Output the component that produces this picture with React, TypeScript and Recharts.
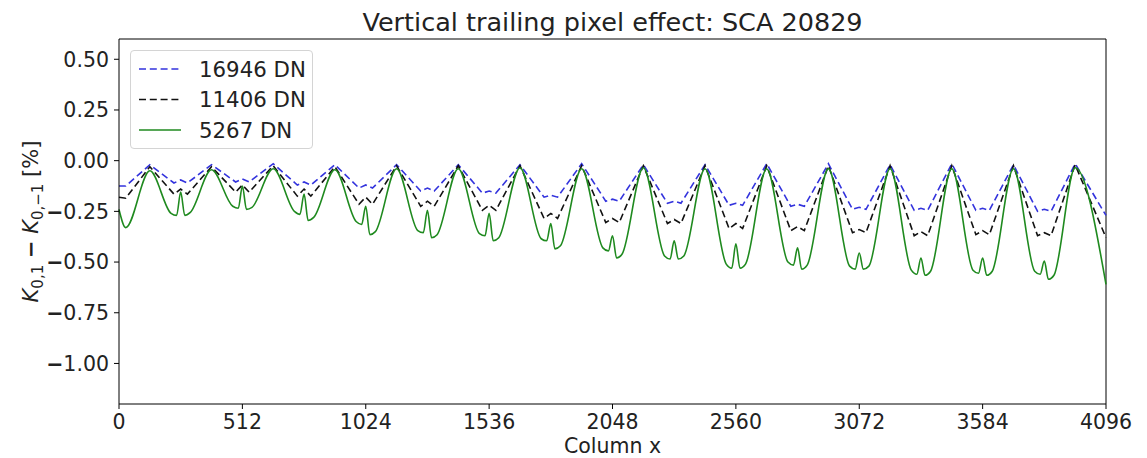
import React from 'react'
import { LineChart, Line, XAxis, YAxis, Legend, Label, ReferenceLine } from 'recharts'

// column positions of the periodic features (peaks between the 256-column blocks)
const PEAK_COLS = [128, 384, 640, 896, 1152, 1408, 1664, 1920, 2176, 2432, 2688, 2944, 3200, 3456, 3712, 3968]
const VALLEY_COLS = [256, 512, 768, 1024, 1280, 1536, 1792, 2048, 2304, 2560, 2816, 3072, 3328, 3584, 3840]
const X_TICKS = [0, 512, 1024, 1536, 2048, 2560, 3072, 3584, 4096]
const Y_TICKS = [0.5, 0.25, 0, -0.25, -0.5, -0.75, -1]

// 16946 DN
const BLUE_PEAK = [-0.02, -0.02, -0.015, -0.02, -0.02, -0.02, -0.02, -0.015, -0.02, -0.02, -0.015, -0.015, -0.02, -0.015, -0.02, -0.015]
const BLUE_TROUGH = [-0.11, -0.105, -0.12, -0.135, -0.15, -0.16, -0.18, -0.2, -0.21, -0.22, -0.225, -0.24, -0.245, -0.245, -0.25]
const BLUE_MID = [-0.095, -0.09, -0.105, -0.12, -0.135, -0.15, -0.17, -0.19, -0.2, -0.21, -0.215, -0.23, -0.235, -0.235, -0.24]
const BLUE_EDGE = [-0.125, -0.125, -0.27] // col 0, first trough, col 4096

// 11406 DN
const BLACK_PEAK = [-0.03, -0.03, -0.025, -0.03, -0.025, -0.025, -0.025, -0.025, -0.025, -0.025, -0.025, -0.025, -0.025, -0.025, -0.025, -0.02]
const BLACK_TROUGH = [-0.165, -0.155, -0.175, -0.215, -0.225, -0.245, -0.285, -0.305, -0.31, -0.335, -0.345, -0.355, -0.37, -0.365, -0.37]
const BLACK_MID = [-0.14, -0.12, -0.14, -0.18, -0.2, -0.22, -0.26, -0.285, -0.29, -0.31, -0.325, -0.34, -0.35, -0.345, -0.355]
const BLACK_EDGE = [-0.18, -0.185, -0.38]

// 5267 DN
const GREEN_PEAK = [-0.05, -0.045, -0.04, -0.045, -0.04, -0.04, -0.035, -0.04, -0.035, -0.04, -0.04, -0.04, -0.04, -0.04, -0.04, -0.035]
const GREEN_FLOOR_L = [-0.26, -0.225, -0.25, -0.3, -0.345, -0.36, -0.385, -0.43, -0.47, -0.51, -0.5, -0.52, -0.54, -0.54, -0.545]
const GREEN_DIP_L = [-0.27, -0.235, -0.265, -0.315, -0.355, -0.37, -0.395, -0.445, -0.485, -0.53, -0.515, -0.535, -0.56, -0.555, -0.56]
const GREEN_SPIKE = [-0.155, -0.125, -0.165, -0.225, -0.245, -0.26, -0.31, -0.37, -0.395, -0.41, -0.43, -0.455, -0.48, -0.48, -0.495]
const GREEN_DIP_R = [-0.27, -0.24, -0.295, -0.365, -0.38, -0.395, -0.435, -0.48, -0.485, -0.53, -0.535, -0.535, -0.565, -0.565, -0.585]
const GREEN_FLOOR_R = [-0.255, -0.23, -0.28, -0.35, -0.365, -0.38, -0.42, -0.46, -0.47, -0.51, -0.515, -0.52, -0.545, -0.545, -0.565]
const GREEN_EDGE = [-0.24, -0.33, -0.61]

const TROUGH_HALF = 28
const FLOOR_HALF = 40
const SPIKE_HALF = 17
const FONT = 'DejaVu Sans, sans-serif'
const FS = 20.5
const MINUS = '\u2212'

type Pt = { x: number; v: number }

function buildDashed(peak: number[], trough: number[], mid: number[], edge: number[]): Pt[] {
  const pts: Pt[] = [{ x: 0, v: edge[0] }, { x: TROUGH_HALF, v: edge[1] }]
  PEAK_COLS.forEach((c, i) => {
    pts.push({ x: c, v: peak[i] })
    if (i < VALLEY_COLS.length) {
      const vc = VALLEY_COLS[i]
      pts.push({ x: vc - TROUGH_HALF, v: trough[i] }, { x: vc, v: mid[i] }, { x: vc + TROUGH_HALF, v: trough[i] })
    }
  })
  pts.push({ x: 4096, v: edge[2] })
  return pts
}

function buildGreen(): Pt[] {
  const pts: Pt[] = [{ x: 0, v: GREEN_EDGE[0] }, { x: 28, v: GREEN_EDGE[1] }]
  PEAK_COLS.forEach((c, i) => {
    pts.push({ x: c, v: GREEN_PEAK[i] })
    if (i < VALLEY_COLS.length) {
      const vc = VALLEY_COLS[i]
      pts.push(
        { x: vc - FLOOR_HALF, v: GREEN_FLOOR_L[i] },
        { x: vc - SPIKE_HALF, v: GREEN_DIP_L[i] },
        { x: vc, v: GREEN_SPIKE[i] },
        { x: vc + SPIKE_HALF, v: GREEN_DIP_R[i] },
        { x: vc + FLOOR_HALF, v: GREEN_FLOOR_R[i] },
      )
    }
  })
  pts.push({ x: 4096, v: GREEN_EDGE[2] })
  return pts
}

const SERIES = [
  { name: '16946 DN', color: '#3333dd', dash: '7 3.8', curve: 'linear', data: buildDashed(BLUE_PEAK, BLUE_TROUGH, BLUE_MID, BLUE_EDGE) },
  { name: '11406 DN', color: '#111111', dash: '7 3.8', curve: 'linear', data: buildDashed(BLACK_PEAK, BLACK_TROUGH, BLACK_MID, BLACK_EDGE) },
  { name: '5267 DN', color: '#1f8a1f', dash: undefined, curve: 'monotone', data: buildGreen() },
]

function YTick(props: any) {
  const { x, y, payload } = props
  const v = payload.value as number
  const txt = v === 0 ? '0.00' : Math.abs(v).toFixed(2)
  return (
    <text x={x} y={y} dy="0.36em" textAnchor="end" fontFamily={FONT} fontSize={FS} fill="#222">
      {v < 0 && <tspan fontWeight="bold">{MINUS}</tspan>}
      <tspan>{txt}</tspan>
    </text>
  )
}

function LegendBox() {
  return (
    <div
      style={{
        width: 183,
        height: 99,
        boxSizing: 'border-box',
        border: '1px solid #d4d4d4',
        borderRadius: 4,
        background: 'rgba(255,255,255,0.85)',
      }}
    >
      <svg width={181} height={97}>
        {SERIES.map((s, i) => (
          <g key={s.name}>
            <line x1={8} x2={50} y1={18 + i * 30.5} y2={18 + i * 30.5} stroke={s.color} strokeWidth={1.6} strokeDasharray={s.dash} />
            <text x={68} y={18 + i * 30.5} dy="0.36em" fontFamily={FONT} fontSize={21.3} fill="#222">
              {s.name}
            </text>
          </g>
        ))}
      </svg>
    </div>
  )
}

function YLabel(props: any) {
  const vb = props.viewBox || { x: 0, y: 0, width: 0, height: 0 }
  const cx = 22
  const cy = vb.y + vb.height / 2
  return (
    <text x={cx} y={cy} transform={`rotate(-90, ${cx}, ${cy})`} textAnchor="middle" dy="0.36em" fontFamily={FONT} fontSize={21} fill="#222">
      <tspan fontStyle="italic">K</tspan>
      <tspan fontSize={15} dy={5}>0,1</tspan>
      <tspan dy={-5}> </tspan>
      <tspan fontWeight="bold">{MINUS}</tspan>
      <tspan> </tspan>
      <tspan fontStyle="italic">K</tspan>
      <tspan fontSize={15} dy={5}>0,{MINUS}1</tspan>
      <tspan dy={-5}> [%]</tspan>
    </text>
  )
}

export default function App() {
  return (
    <div style={{ width: 1139, height: 450, position: 'relative' }}>
      <LineChart width={1139} height={450} margin={{ top: 31, right: 41, bottom: 4, left: 0 }}>
        <XAxis
          dataKey="x"
          type="number"
          domain={[0, 4096]}
          ticks={X_TICKS}
          allowDuplicatedCategory={false}
          height={50}
          tickSize={5}
          tickMargin={5}
          stroke="#000"
          tick={{ fill: '#222', fontSize: FS, fontFamily: FONT }}
        >
          <Label value="Column x" position="insideBottom" offset={1} fill="#222" fontSize={FS} fontFamily={FONT} />
        </XAxis>
        <YAxis
          type="number"
          domain={[-1.2, 0.6]}
          ticks={Y_TICKS}
          width={111}
          tickSize={5}
          tickMargin={5}
          stroke="#000"
          tick={<YTick />}
        >
          <Label content={<YLabel />} />
        </YAxis>
        <ReferenceLine y={0.6} stroke="#000" strokeWidth={1}>
          <Label value="Vertical trailing pixel effect: SCA 20829" position="top" offset={8} fill="#222" fontSize={25.5} fontFamily={FONT} />
        </ReferenceLine>
        <ReferenceLine x={4096} stroke="#000" strokeWidth={1} />
        <Legend
          layout="horizontal"
          verticalAlign="middle"
          align="center"
          content={() => <LegendBox />}
          wrapperStyle={{ position: 'absolute', left: 122, top: 42, width: 183, height: 99 }}
        />
        {SERIES.map((s) => (
          <Line
            key={s.name}
            data={s.data}
            dataKey="v"
            name={s.name}
            type={s.curve as any}
            stroke={s.color}
            strokeWidth={1.6}
            strokeDasharray={s.dash}
            dot={false}
            activeDot={false}
            isAnimationActive={false}
          />
        ))}
      </LineChart>
    </div>
  )
}
